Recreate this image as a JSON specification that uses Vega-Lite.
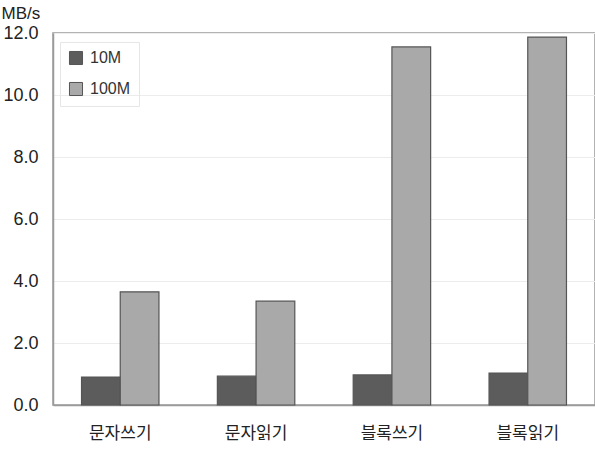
{
  "$schema": "https://vega.github.io/schema/vega-lite/v6.json",
  "width": 542,
  "height": 372,
  "autosize": {"type": "none"},
  "padding": {"left": 53, "top": 33, "right": 0, "bottom": 44},
  "background": "white",
  "config": {
    "view": {"stroke": "#9a9a9a", "strokeWidth": 1.5},
    "font": "Liberation Sans"
  },
  "data": {
    "values": [
      {"op": "문자쓰기", "net": "10M", "v": 0.9},
      {"op": "문자쓰기", "net": "100M", "v": 3.65},
      {"op": "문자읽기", "net": "10M", "v": 0.93},
      {"op": "문자읽기", "net": "100M", "v": 3.35},
      {"op": "블록쓰기", "net": "10M", "v": 0.97},
      {"op": "블록쓰기", "net": "100M", "v": 11.55},
      {"op": "블록읽기", "net": "10M", "v": 1.03},
      {"op": "블록읽기", "net": "100M", "v": 11.87}
    ]
  },
  "mark": {"type": "bar", "stroke": "#555555", "strokeWidth": 1.2},
  "encoding": {
    "x": {
      "field": "op", "type": "nominal", "sort": null,
      "scale": {"paddingInner": 0.43, "paddingOuter": 0.21},
      "axis": {
        "title": null, "labelAngle": 0, "ticks": false, "domainColor": "#9a9a9a", "domainWidth": 1.5,
        "labelFont": "Noto Sans CJK KR", "labelFontSize": 17, "labelColor": "#222", "labelPadding": 20
      }
    },
    "xOffset": {"field": "net", "type": "nominal", "sort": ["10M", "100M"], "scale": {"paddingInner": 0, "paddingOuter": 0}},
    "y": {
      "field": "v", "type": "quantitative",
      "scale": {"domain": [0, 12], "nice": false},
      "axis": {
        "values": [0, 2, 4, 6, 8, 10, 12], "format": ".1f", "ticks": false,
        "labelFontSize": 18, "labelColor": "#222", "labelPadding": 15,
        "domainColor": "#9a9a9a", "domainWidth": 1.5,
        "grid": true, "gridColor": "#ececec", "gridWidth": 1,
        "title": "MB/s", "titleAngle": 0, "titleAlign": "left", "titleBaseline": "alphabetic",
        "titleX": -52, "titleY": -15, "titleFontSize": 17, "titleFontWeight": "normal", "titleColor": "#222"
      }
    },
    "color": {
      "field": "net", "type": "nominal", "sort": ["10M", "100M"],
      "scale": {"domain": ["10M", "100M"], "range": ["#5c5c5c", "#a9a9a9"]},
      "legend": {
        "title": null, "orient": "none", "legendX": 7, "legendY": 9,
        "strokeColor": "#e6e6e6", "padding": 8, "rowPadding": 13,
        "symbolType": "square", "symbolSize": 170, "symbolStrokeColor": "#555", "symbolStrokeWidth": 1,
        "labelFontSize": 16, "labelColor": "#333", "labelOffset": 6
      }
    }
  }
}
